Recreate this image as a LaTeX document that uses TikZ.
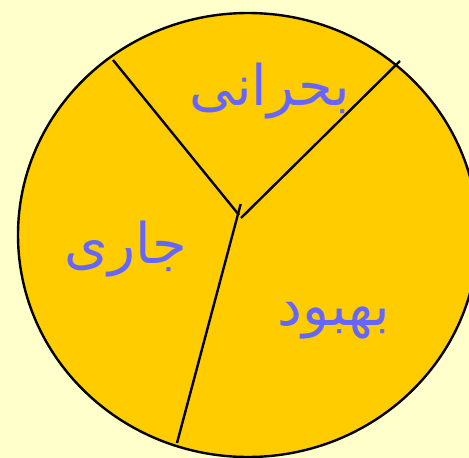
\documentclass[tikz,border=0pt]{standalone}
\usepackage{fontspec}
\newfontfamily\arabicfont[Script=Arabic]{DejaVu Sans}
\TeXXeTstate=1
\definecolor{bgyellow}{HTML}{FFFFCC}
\definecolor{gold}{HTML}{FFCC00}
\definecolor{labelblue}{HTML}{6666FF}
\tikzset{
  sector/.style={draw=black, line width=2.4pt},
  lbl/.style={text=labelblue, font=\arabicfont\fontsize{56}{64}\selectfont, inner sep=0pt}
}
\begin{document}
\begin{tikzpicture}[x=1pt,y=-1pt]
\fill[bgyellow] (0,0) rectangle (469,458);
\useasboundingbox (0,0) rectangle (469,458);
\filldraw[fill=gold, draw=black, line width=2.4pt] (248,235) ellipse [x radius=230, y radius=222];
\coordinate (a1) at (113,60);
\coordinate (a2) at (239,215);
\coordinate (b1) at (400,61);
\coordinate (b2) at (241,218);
\coordinate (c1) at (240.7,204);
\coordinate (c2) at (177,443);
\draw[sector] (a1) -- (a2);
\draw[sector] (b1) -- (b2);
\draw[sector] (c1) -- (c2);
\node[lbl] (bohrani) at (270,91) {\beginR بحرانی\endR};
\node[lbl] (jari) at (126,249) {\beginR جاری\endR};
\node[lbl] (behbud) at (334,321) {\beginR بهبود\endR};
\end{tikzpicture}
\end{document}
